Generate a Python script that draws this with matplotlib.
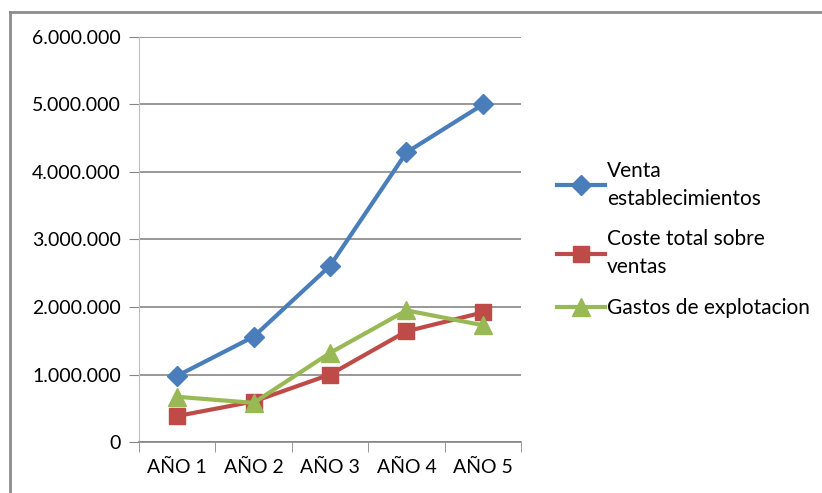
import matplotlib.pyplot as plt
from matplotlib.lines import Line2D
from matplotlib.ticker import FuncFormatter, FixedLocator

plt.rcParams['font.family'] = ['Lato', 'DejaVu Sans']

# Datos por año
anios = ["AÑO 1", "AÑO 2", "AÑO 3", "AÑO 4", "AÑO 5"]
venta = [980000, 1560000, 2610000, 4290000, 5000000]
coste = [385000, 600000, 1000000, 1640000, 1920000]
gastos = [670000, 580000, 1320000, 1950000, 1730000]

fig = plt.figure(figsize=(8.22, 4.93), dpi=100)
ax = fig.add_axes([0.169, 0.1034, 0.465, 0.8216])

x = range(len(anios))
ax.plot(x, venta, color="#4A7EBB", lw=3, marker="D", ms=10,
        label="Venta\nestablecimientos")
ax.plot(x, coste, color="#BE4B48", lw=3, marker="s", ms=12,
        label="Coste total sobre\nventas")
ax.plot(x, gastos, color="#98B954", lw=3, marker="^", ms=13,
        label="Gastos de explotacion")

ax.set_xlim(-0.5, 4.5)
ax.set_ylim(0, 6000000)
ax.set_yticks(range(0, 6000001, 1000000))
ax.yaxis.set_major_formatter(FuncFormatter(lambda v, p: f"{int(v):,}".replace(",", ".")))
ax.set_xticks(list(x))
ax.set_xticklabels(anios)
ax.xaxis.set_minor_locator(FixedLocator([i - 0.5 for i in range(len(anios) + 1)]))

ax.grid(axis="y", color="#868686", lw=1.2)
ax.set_axisbelow(True)
for s in ["top", "right"]:
    ax.spines[s].set_visible(False)
ax.spines["left"].set_color("#BFBFBF")
ax.spines["bottom"].set_color("#868686")
ax.spines["bottom"].set_linewidth(1.2)

ax.tick_params(axis="y", length=7, color="#868686", labelsize=14, pad=6)
ax.tick_params(axis="x", which="major", length=0, labelsize=14, pad=12)
ax.tick_params(axis="x", which="minor", length=7, color="#868686")

leg = ax.legend(loc="center left", bbox_to_anchor=(1.045, 0.5), frameon=False,
                fontsize=15, handlelength=2.3, handletextpad=0.1, labelspacing=1.0)
for t in leg.get_texts():
    t.set_linespacing(1.5)

# marco exterior
fig.add_artist(Line2D([10 / 822, 1], [1 - 12 / 493, 1 - 12 / 493], color="#8C8C8C", lw=2))
fig.add_artist(Line2D([10 / 822, 10 / 822], [0, 1 - 12 / 493], color="#8C8C8C", lw=2))

fig.savefig("out.png", dpi=100)
